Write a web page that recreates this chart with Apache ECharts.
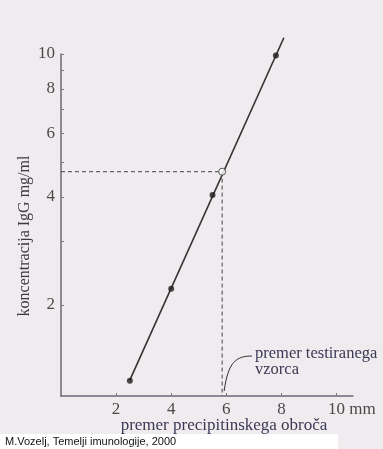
<!DOCTYPE html>
<html>
<head>
<meta charset="utf-8">
<script src="https://cdn.jsdelivr.net/npm/echarts@6/dist/echarts.min.js"></script>
<style>
  html, body { margin: 0; padding: 0; background: #efebee; }
  #chart { width: 383px; height: 449px; }
</style>
</head>
<body>
<div id="chart"></div>
<script>
// standard samples: ring diameter (mm) vs IgG concentration (mg/ml)
const standardX = [2.5, 4.0, 5.5, 7.8]
const standardY = [1.23, 2.22, 4.05, 9.9]
// calibration line ends
const fitX = [2.49, 8.09]
const fitY = [1.23, 11.1]
// tested sample
const sampleX = 5.85
const sampleY = 4.7

const xTicks = [2, 4, 6, 8, 10]
const yLabels = [2, 4, 6, 8, 10]
const yTicks = [2, 3, 4, 5, 6, 7, 8, 9, 10]
const yMin = 1.115
const yMax = 10

const ink = '#4a4a4a'
const serif = '"Liberation Serif", "DejaVu Serif", serif'

const chart = echarts.init(document.getElementById('chart'))

const option = {
  backgroundColor: '#efebee',
  animation: false,
  grid: { left: 61, right: 30, top: 54, bottom: 53 },
  xAxis: {
    type: 'value',
    min: 0,
    max: 10.6,
    axisLine: { lineStyle: { color: '#6a6a7a', width: 1.5 } },
    axisTick: { inside: true, length: 3, customValues: xTicks, lineStyle: { color: '#777' } },
    axisLabel: {
      customValues: xTicks,
      color: ink,
      fontFamily: serif,
      fontSize: 17,
      margin: 5,
      formatter: (v) => (v === 10 ? '{pad|}10 mm' : String(v)),
      rich: { pad: { width: 31 } },
    },
    splitLine: { show: false },
    name: 'premer precipitinskega obroča',
    nameLocation: 'middle',
    nameGap: 21,
    nameMoveOverlap: false,
    nameTextStyle: { color: '#3a3a55', fontFamily: serif, fontSize: 17, padding: [0, 0, 0, 34] },
  },
  yAxis: {
    type: 'log',
    min: yMin,
    max: yMax,
    axisLine: { show: true, lineStyle: { color: '#6a6a7a', width: 1.5 } },
    axisTick: { show: true, inside: true, length: 3, customValues: yTicks, lineStyle: { color: '#777' } },
    axisLabel: {
      customValues: yLabels,
      color: ink,
      fontFamily: serif,
      fontSize: 17,
      margin: 6,
    },
    splitLine: { show: false },
    minorTick: { show: false },
    name: 'koncentracija IgG mg/ml',
    nameLocation: 'middle',
    nameGap: 28,
    nameMoveOverlap: false,
    nameTextStyle: { color: '#3a3a45', fontFamily: serif, fontSize: 16, padding: [0, 22, 0, 0] },
  },
  series: [
    {
      name: 'guide',
      type: 'line',
      data: [[0, sampleY], [sampleX, sampleY], [sampleX, yMin]],
      symbol: 'none',
      lineStyle: { color: '#444', width: 1, type: [4, 3] },
      z: 1,
    },
    {
      name: 'fit',
      type: 'line',
      data: fitX.map((x, i) => [x, fitY[i]]),
      symbol: 'none',
      clip: false,
      lineStyle: { color: '#333', width: 1.6 },
      z: 2,
    },
    {
      name: 'standards',
      type: 'scatter',
      data: standardX.map((x, i) => [x, standardY[i]]),
      symbolSize: 6,
      itemStyle: { color: '#1e1e1e' },
      z: 3,
    },
    {
      name: 'sample',
      type: 'scatter',
      data: [[sampleX, sampleY]],
      symbolSize: 7,
      itemStyle: { color: '#ffffff', borderColor: '#333', borderWidth: 1 },
      z: 4,
    },
  ],
}
chart.setOption(option)

// leader from the annotation to the tested sample's ring diameter
const foot = chart.convertToPixel({ gridIndex: 0 }, [sampleX, yMin])
chart.setOption({
  graphic: [
    {
      type: 'bezierCurve',
      shape: {
        x1: foot[0] + 2, y1: foot[1] - 5,
        x2: 252, y2: 356,
        cpx1: foot[0] + 6, cpy1: 362,
        cpx2: 236, cpy2: 356,
      },
      style: { stroke: '#333', lineWidth: 1, fill: null },
    },
    {
      type: 'text',
      left: 255,
      top: 345,
      style: {
        text: 'premer testiranega\nvzorca',
        fill: '#3a3a55',
        font: '16.5px ' + serif,
        lineHeight: 16,
      },
    },
    {
      type: 'rect',
      shape: { x: 0, y: 434, width: 338, height: 15 },
      style: { fill: '#ffffff' },
    },
    {
      type: 'text',
      left: 5,
      top: 436,
      style: {
        text: 'M.Vozelj, Temelji imunologije, 2000',
        fill: '#111',
        font: '11px "Liberation Sans", Arial, sans-serif',
      },
    },
  ],
})
</script>
</body>
</html>
